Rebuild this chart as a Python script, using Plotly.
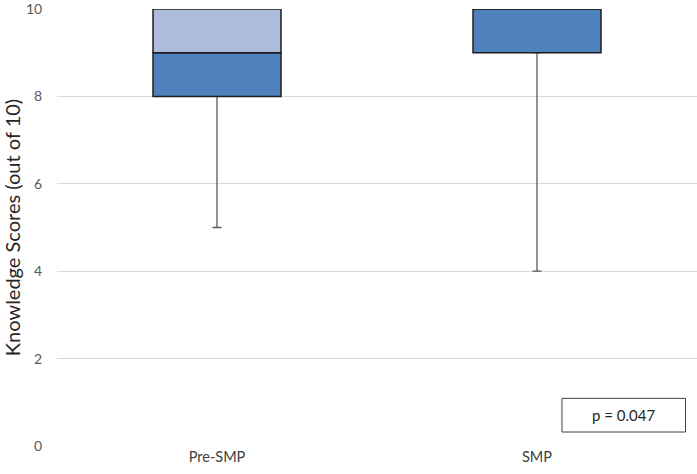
import plotly.graph_objects as go

categories = ["Pre-SMP", "SMP"]
minimum = [5, 4]
q1 = [8, 9]
median = [9, 10]
q3 = [10, 10]
maximum = [10, 10]
p_text = "p = 0.047"

lower_h = [m - a for m, a in zip(median, q1)]
upper_h = [b - m for b, m in zip(q3, median)]
whisk_lo = [a - mn for a, mn in zip(q1, minimum)]
whisk_hi = [mx - b for mx, b in zip(maximum, q3)]

FONT = "Lato, 'Open Sans', sans-serif"
fig = go.Figure()
# invisible base bar carrying lower whisker
fig.add_trace(go.Bar(
    x=categories, y=q1, base=[0, 0],
    marker=dict(color="rgba(0,0,0,0)", line=dict(width=0)),
    error_y=dict(type="data", symmetric=False, array=[0, 0], arrayminus=whisk_lo,
                 color="#595959", thickness=1.3, width=4.5),
    hoverinfo="skip", showlegend=False))
fig.add_trace(go.Bar(
    x=categories, y=lower_h, base=q1,
    marker=dict(color="#4F81BD", line=dict(color="#1F1F1F", width=1.5)),
    showlegend=False))
fig.add_trace(go.Bar(
    x=categories, y=upper_h, base=median,
    marker=dict(color="#ADBCDB", line=dict(color="#1F1F1F", width=1.5)),
    showlegend=False))

fig.update_layout(
    width=697, height=474,
    margin=dict(l=57, r=0, t=9, b=28),
    paper_bgcolor="white", plot_bgcolor="white",
    barmode="overlay", bargap=0.6,
    font=dict(family=FONT, size=14, color="#595959"),
    xaxis=dict(showgrid=False, showline=False, ticks="",
               tickfont=dict(size=14.5, color="#404040")),
    yaxis=dict(range=[0, 10], dtick=2, showgrid=True, gridcolor="#D9D9D9",
               gridwidth=1, zeroline=False, showline=False,
               ticks="outside", ticklen=11, tickcolor="rgba(0,0,0,0)",
               tickfont=dict(size=14, color="#595959"),
               ticklabeloverflow="allow",
               automargin=False,
               title=dict(text="Knowledge Scores (out of 10)",
                          font=dict(size=20, color="#262626"), standoff=4)),
)
fig.add_shape(type="rect", xref="paper", yref="paper",
              x0=0.789, x1=0.982, y0=0.032, y1=0.109,
              line=dict(color="#404040", width=1), fillcolor="white")
fig.add_annotation(xref="paper", yref="paper", x=0.8855, y=0.0705,
                   xanchor="center", yanchor="middle",
                   text=p_text, showarrow=False,
                   font=dict(size=15, color="#262626", family=FONT))

fig.write_html("out.html", config={"displayModeBar": False},
               post_script="document.body.style.margin='0';")
